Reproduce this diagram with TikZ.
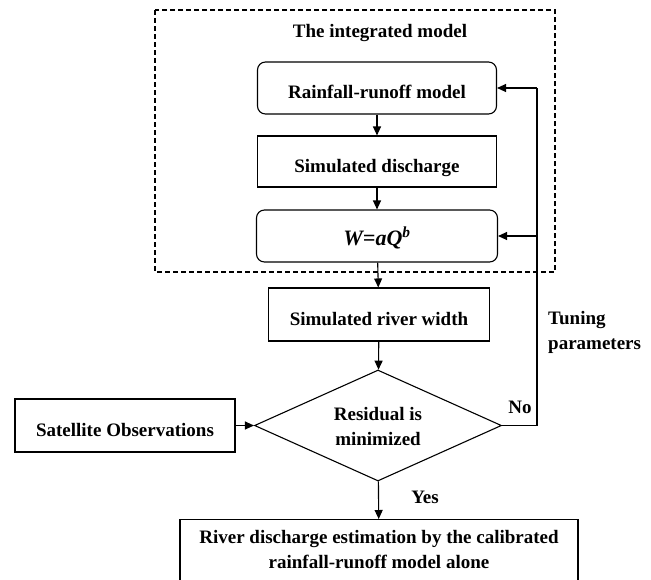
\documentclass[tikz,border=0pt]{standalone}
\usepackage{fontspec}
\setmainfont{Liberation Serif}
\usetikzlibrary{arrows.meta,shapes.geometric}
\begin{document}
\begin{tikzpicture}[x=1pt,y=-1pt,
  box/.style={draw,line width=1.1pt,font=\bfseries\fontsize{19}{23}\selectfont,inner sep=0pt,text height=21pt,text depth=0pt},
  lbl/.style={font=\bfseries\fontsize{19}{25}\selectfont,inner sep=0pt},
  arr/.style={line width=1.1pt,-{Triangle[length=9pt,width=8pt]}},
  ln/.style={line width=1.1pt}]
\useasboundingbox (0,0) rectangle (651,579);
\clip (0,0) rectangle (651,579);
\draw[dash pattern=on 5pt off 3pt,line width=1.1pt] (155,10) rectangle (555,272);
\node[lbl] (title) at (380,33) {The integrated model};
\node[box,rounded corners=8pt,minimum width=239pt,minimum height=52pt] (rr) at (377,88) {Rainfall-runoff model};
\node[box,minimum width=239pt,minimum height=51pt] (sd) at (377,161.5) {Simulated discharge};
\node[box,rounded corners=8pt,minimum width=241pt,minimum height=52pt,font=\bfseries\itshape\fontsize{22}{26}\selectfont,text height=19pt] (w) at (377,236) {W=aQ\textsuperscript{b}};
\node[box,minimum width=221pt,minimum height=53pt] (rw) at (379,314.5) {Simulated river width};
\node[box,diamond,minimum width=247pt,minimum height=111pt,shape aspect=2.2] (dm) at (378,425.5) {};
\node[lbl,align=center] (dmt) at (378,426) {Residual is\\minimized};
\node[box,minimum width=220pt,minimum height=53pt] (so) at (125,425.5) {Satellite Observations};
\node[box,minimum width=398pt,minimum height=80pt,anchor=north] (rd) at (379,519) {};
\node[lbl,align=center] (rdt) at (379,550) {River discharge estimation by the calibrated\\rainfall-runoff model alone};
\coordinate (c1) at (537,425.5);
\coordinate (c2) at (537,88);
\coordinate (c3) at (537,236);
\draw[arr] (rr) -- (sd);
\draw[arr] (sd) -- (w);
\draw[arr] (w) -- (rw);
\draw[arr] (rw) -- (dm);
\draw[arr] (so) -- (dm);
\draw[arr] (dm) -- (rd);
\draw[ln] (dm.east) -- (c1) -- (c2);
\draw[arr] (c2) -- (rr);
\draw[arr] (c3) -- (w);
\node[lbl] (no) at (520,407) {No};
\node[lbl] (yes) at (425,497) {Yes};
\node[lbl,align=left,anchor=west] (tp) at (548,332) {Tuning\\parameters};
\end{tikzpicture}
\end{document}
